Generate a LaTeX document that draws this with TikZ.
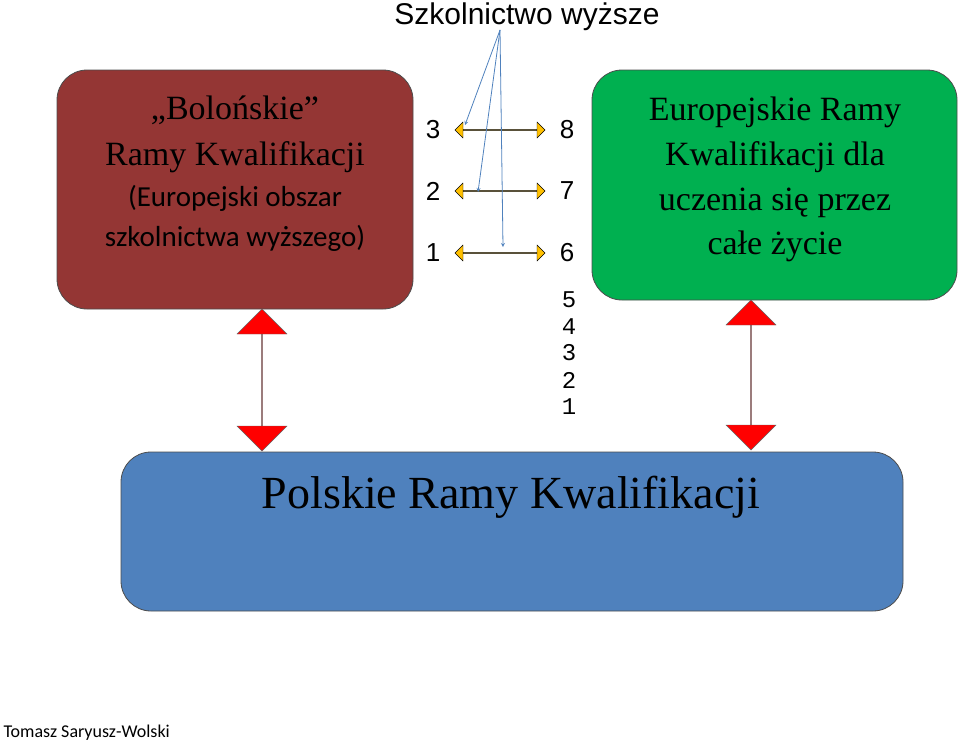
\documentclass[tikz,border=0pt]{standalone}
\usepackage{fontspec}
\setmainfont{Liberation Serif}
\newfontfamily\arialf{Liberation Sans}
\newfontfamily\calibrif{Carlito}
\newfontfamily\monof{Liberation Mono}
\usetikzlibrary{shapes.arrows}
\definecolor{Red_box}{RGB}{148, 54, 52}
\definecolor{Green_box}{RGB}{0, 176, 80}
\definecolor{Blue_box}{RGB}{79, 129, 189}
\definecolor{Level_arrow}{RGB}{255, 192, 0}
\definecolor{Link_line}{RGB}{79, 129, 189}
\tikzset{
    framebox/.style={draw=black!70, rounded corners=30pt, line width=0.8pt},
    levelarrow/.style={double arrow, draw=black, fill=Level_arrow, minimum height=90pt, minimum width=16pt, double arrow head extend=4pt, inner sep=0pt},
    bigarrow/.style={double arrow, draw=black!60, fill=red, minimum height=142pt, minimum width=50pt, double arrow head extend=12pt, shape border rotate=90, inner sep=0pt},
    levelnum/.style={font=\arialf\fontsize{26}{28}\selectfont},
}
\begin{document}
\begin{tikzpicture}[x=1pt, y=1pt]
    %% Background
    \useasboundingbox (0,0) rectangle (960,-744);

    %% Title
    \node (title) at (527,-17) {\arialf\fontsize{30}{32}\selectfont Szkolnictwo wyższe};

    %% Boxes
    \draw[framebox, fill=Red_box] (57,-70) rectangle (413,-309);
    \draw[framebox, fill=Green_box] (592,-70) rectangle (957,-300);
    \draw[framebox, fill=Blue_box] (121,-452) rectangle (903,-611);

    \node (bol1) at (235,-110) {\fontsize{34}{36}\selectfont „Bolońskie”};
    \node (bol2) at (235,-157) {\fontsize{34}{36}\selectfont Ramy Kwalifikacji};
    \node (bol3) at (235,-198) {\calibrif\fontsize{29}{31}\selectfont (Europejski obszar};
    \node (bol4) at (235,-238) {\calibrif\fontsize{29}{31}\selectfont szkolnictwa wyższego)};

    \node (eur1) at (775,-112) {\fontsize{34}{36}\selectfont Europejskie Ramy};
    \node (eur2) at (775,-157) {\fontsize{34}{36}\selectfont Kwalifikacji dla};
    \node (eur3) at (775,-203) {\fontsize{34}{36}\selectfont uczenia się przez};
    \node (eur4) at (775,-246) {\fontsize{34}{36}\selectfont całe życie};

    \node (prk) at (511,-497) {\fontsize{46}{48}\selectfont Polskie Ramy Kwalifikacji};

    %% Red arrows
    \node[bigarrow] (leftlink) at (262,-380) {};
    \node[bigarrow, minimum height=150pt] (rightlink) at (751,-375) {};

    %% Levels
    \foreach \i/\l/\r/\y in {3/3/8/-130, 2/2/7/-191, 1/1/6/-253} {
        \node[levelarrow] (lvl\i) at (500,\y) {};
        \node[levelnum] (left\i) at (433,\y) {\l};
        \node[levelnum] (right\i) at (567,\y) {\r};
    }
    \foreach \n/\y in {5/-300, 4/-327, 3/-353, 2/-380, 1/-407}
        \node[font=\monof\fontsize{24}{26}\selectfont] (low\n) at (569,\y) {\n};

    %% Links from title
    \coordinate (src) at (500,-30);
    \draw[Link_line, thick, -stealth] (src) -- ([xshift=-35pt, yshift=5pt]lvl3.center);
    \draw[Link_line, thick, -stealth] (src) -- ([xshift=-22pt, yshift=-1pt]lvl2.center);
    \draw[Link_line, thick, -stealth] (src) -- ([xshift=3pt, yshift=6pt]lvl1.center);

    %% Footer
    \node[anchor=west] (author) at (0,-733) {\calibrif\fontsize{18}{20}\selectfont Tomasz Saryusz-Wolski};
\end{tikzpicture}
\end{document}
